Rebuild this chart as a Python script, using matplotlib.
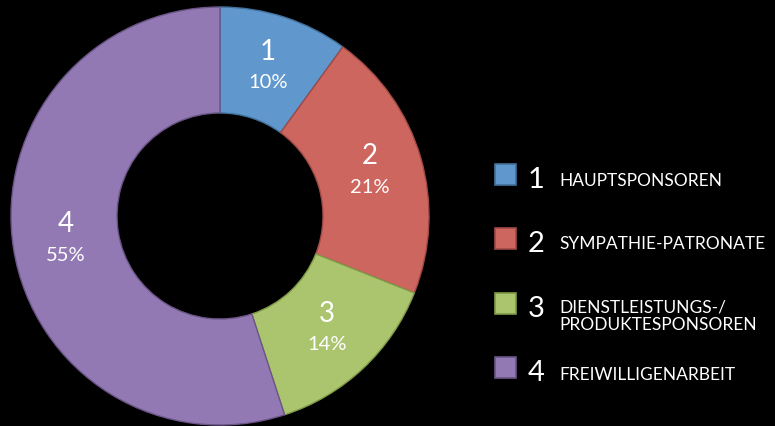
import matplotlib
matplotlib.use("Agg")
import matplotlib.pyplot as plt
from matplotlib.patches import Rectangle
import numpy as np

categories = ["1", "2", "3", "4"]
names = ["HAUPTSPONSOREN", "SYMPATHIE-PATRONATE", "DIENSTLEISTUNGS-/\nPRODUKTESPONSOREN", "FREIWILLIGENARBEIT"]
values = [10, 21, 14, 55]
colors = ["#6097CC", "#CE6660", "#ABC56F", "#9379B3"]
edges = ["#41719C", "#9E4A46", "#7F9A48", "#6B5587"]

plt.rcParams['font.family'] = ['Lato', 'DejaVu Sans']

W, H = 775, 427
fig = plt.figure(figsize=(W / 100, H / 100), dpi=100, facecolor="black")

cx, cy, R = 220, 217, 210
ax = fig.add_axes([(cx - R) / W, (H - cy - R) / H, 2 * R / W, 2 * R / H])
ax.set_facecolor("black")

outer = 209 / R
inner = 103 / R
wedges, _ = ax.pie(values, colors=colors, startangle=90, counterclock=False,
                   radius=outer, wedgeprops=dict(width=outer - inner, linewidth=1.0))
for w, e in zip(wedges, edges):
    w.set_edgecolor(e)
ax.set_xlim(-1, 1)
ax.set_ylim(-1, 1)
ax.set_aspect("equal")
ax.axis("off")

total = sum(values)
cum = 0
px = 1 / R
for c, v in zip(categories, values):
    mid = cum + v / 2
    cum += v
    ang = np.deg2rad(90 - 360 * mid / total)
    r = (outer + inner) / 2
    x, y = r * np.cos(ang), r * np.sin(ang)
    ax.text(x, y + 17 * px, c, color="white", fontsize=20,
            ha="center", va="center")
    ax.text(x, y - 14 * px, f"{v}%", color="white", fontsize=14.5,
            ha="center", va="center")

# legend
rows_y = [175, 239, 304, 368]
text_y = [181, 244, 316, 375]
for c, n, col, e, ry, ty in zip(categories, names, colors, edges, rows_y, text_y):
    fig.patches.append(Rectangle(((495) / W, (H - ry - 11) / H), 21 / W, 21 / H,
                                 transform=fig.transFigure, facecolor=col,
                                 edgecolor=e, linewidth=1.2))
    fig.text(536 / W, (H - ry - 5) / H, c, color="white", fontsize=21,
             ha="center", va="center")
    fig.text(559 / W, (H - ty) / H, n, color="white", fontsize=12.5,
             ha="left", va="center", linespacing=1.1)

fig.savefig("out.png", dpi=100, facecolor="black")
